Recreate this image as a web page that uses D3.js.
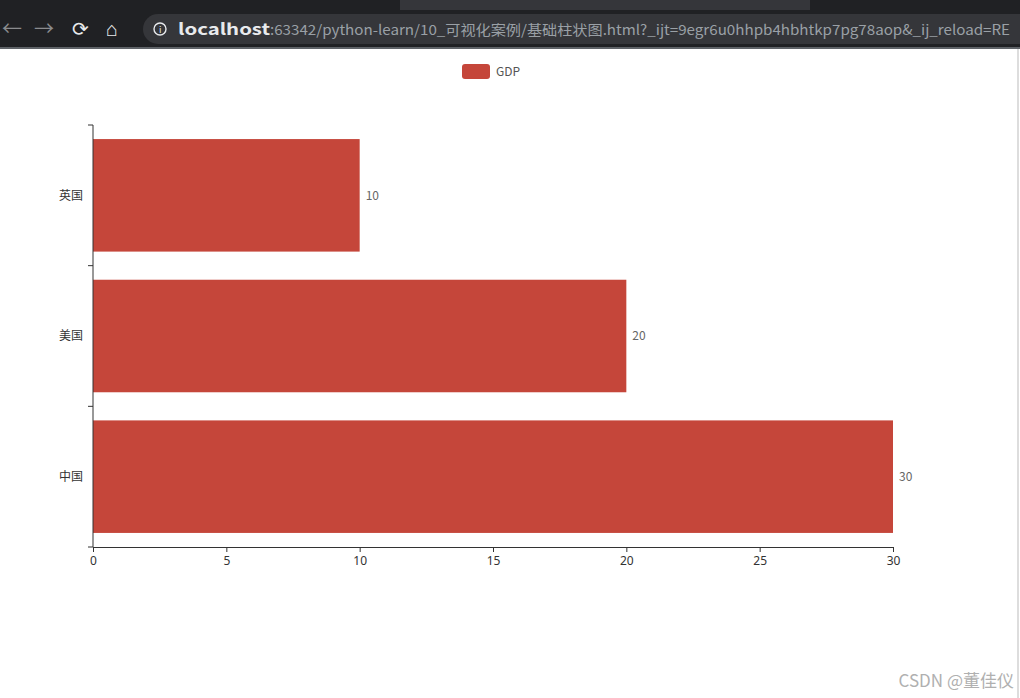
<!DOCTYPE html>
<meta charset="utf-8">
<style>
body { margin: 0; background: #fff; }
text { font-family: "Noto Sans CJK SC", "Noto Sans", sans-serif; }
</style>
<svg width="1020" height="698"></svg>
<script src="https://cdn.jsdelivr.net/npm/d3@7"></script>
<script>

// data
var countries = ["中国", "美国", "英国"];
var gdp = [30, 20, 10];
var xTicks = [0, 5, 10, 15, 20, 25, 30];
var seriesName = "GDP";
var pageUrl = "localhost:63342/python-learn/10_可视化案例/基础柱状图.html?_ijt=9egr6u0hhpb4hbhtkp7pg78aop&_ij_reload=RE";

var svg = d3.select("svg"),
    width = +svg.attr("width"),
    height = +svg.attr("height");

var barColor = "#c5463a";

// browser chrome at the top
var chrome = svg.append("g").attr("class", "chrome");
chrome.append("rect").attr("width", width).attr("height", 47).attr("fill", "#202124");
chrome.append("rect").attr("x", 400).attr("y", 0).attr("width", 410).attr("height", 10).attr("fill", "#35363a");
chrome.append("rect").attr("x", 143).attr("y", 14).attr("width", 900).attr("height", 30)
    .attr("rx", 15).attr("fill", "#35363a");
chrome.append("rect").attr("y", 47).attr("width", width).attr("height", 2).attr("fill", "#5f6368");
chrome.selectAll("text.nav")
    .data([["←", 2], ["→", 34], ["⟳", 72], ["⌂", 106]])
    .enter().append("text")
    .attr("class", "nav")
    .attr("x", function(d) { return d[1]; })
    .attr("y", 36)
    .attr("fill", function(d, i) { return i < 2 ? "#8a8b8e" : "#e8eaed"; })
    .style("font-size", "20px")
    .text(function(d) { return d[0]; });
chrome.append("circle").attr("cx", 160).attr("cy", 29).attr("r", 6)
    .attr("fill", "none").attr("stroke", "#e8eaed").attr("stroke-width", 1.4);
chrome.append("text").attr("x", 159).attr("y", 33).attr("fill", "#e8eaed")
    .style("font-size", "9px").text("i");
chrome.append("text").attr("x", 178).attr("y", 35).attr("fill", "#e8eaed")
    .style("font-size", "16px").style("font-weight", "bold")
    .attr("textLength", 92).attr("lengthAdjust", "spacingAndGlyphs")
    .text("localhost");
chrome.append("text").attr("x", 270).attr("y", 35).attr("fill", "#9aa0a6")
    .style("font-size", "14px")
    .attr("textLength", 740).attr("lengthAdjust", "spacingAndGlyphs")
    .text(pageUrl.slice(9));

// chart area
var margin = {left: 93, top: 125, right: 127, bottom: 151};
var x = d3.scaleLinear().domain([0, 30]).range([margin.left, width - margin.right]);
var y = d3.scaleBand().domain(countries.slice().reverse())
    .range([margin.top, height - margin.bottom]).paddingInner(0.2).paddingOuter(0.1);

var g = svg.append("g");

g.selectAll("rect.bar")
    .data(countries)
    .enter().append("rect")
    .attr("class", "bar")
    .attr("x", x(0))
    .attr("y", function(d) { return y(d); })
    .attr("width", function(d, i) { return x(gdp[i]) - x(0); })
    .attr("height", y.bandwidth())
    .attr("fill", barColor);

g.selectAll("text.val")
    .data(countries)
    .enter().append("text")
    .attr("class", "val")
    .attr("x", function(d, i) { return x(gdp[i]) + 6; })
    .attr("y", function(d) { return y(d) + y.bandwidth() / 2; })
    .attr("dy", "0.35em")
    .attr("fill", "#666")
    .style("font-size", "12px")
    .text(function(d, i) { return gdp[i]; });

// x axis
var xAxis = g.append("g")
    .attr("transform", "translate(0," + (height - margin.bottom) + ")")
    .call(d3.axisBottom(x).tickValues(xTicks).tickSize(5).tickPadding(4).tickSizeOuter(0));
xAxis.select(".domain").attr("stroke", "#333");
xAxis.selectAll(".tick line").attr("stroke", "#333");
xAxis.selectAll("text").attr("fill", "#333").style("font-size", "12px")
    .style("font-family", "'Noto Sans', sans-serif");

// y axis with ticks on band edges
var yAxis = g.append("g").attr("transform", "translate(" + margin.left + ",0)");
var step = y.step();
var edges = [margin.top].concat(countries.slice().reverse().map(function(d) {
  return y(d) - step * y.paddingInner() / 2 + step;
}));
edges[edges.length - 1] = height - margin.bottom;
yAxis.append("line").attr("y1", margin.top).attr("y2", height - margin.bottom)
    .attr("stroke", "#333");
yAxis.selectAll("line.tk").data(edges).enter().append("line")
    .attr("class", "tk")
    .attr("x1", -5).attr("x2", 0)
    .attr("y1", function(d) { return d; }).attr("y2", function(d) { return d; })
    .attr("stroke", "#333");
yAxis.selectAll("text").data(countries).enter().append("text")
    .attr("x", -10)
    .attr("y", function(d) { return y(d) + y.bandwidth() / 2; })
    .attr("dy", "0.35em")
    .attr("text-anchor", "end")
    .attr("fill", "#333")
    .style("font-size", "12px")
    .text(function(d) { return d; });

// legend
var legend = svg.append("g").attr("transform", "translate(462,64)");
legend.append("rect").attr("width", 28).attr("height", 15).attr("rx", 3).attr("fill", barColor);
legend.append("text").attr("x", 34).attr("y", 8).attr("dy", "0.35em")
    .attr("fill", "#555").style("font-size", "12px").text(seriesName);

// watermark
svg.append("text").attr("x", 1014).attr("y", 687).attr("text-anchor", "end")
    .attr("fill", "#b0b0b0").style("font-size", "17px").text("CSDN @董佳仪");
svg.append("line").attr("x1", 1018).attr("x2", 1018).attr("y1", 49).attr("y2", height)
    .attr("stroke", "#bbb");

</script>
